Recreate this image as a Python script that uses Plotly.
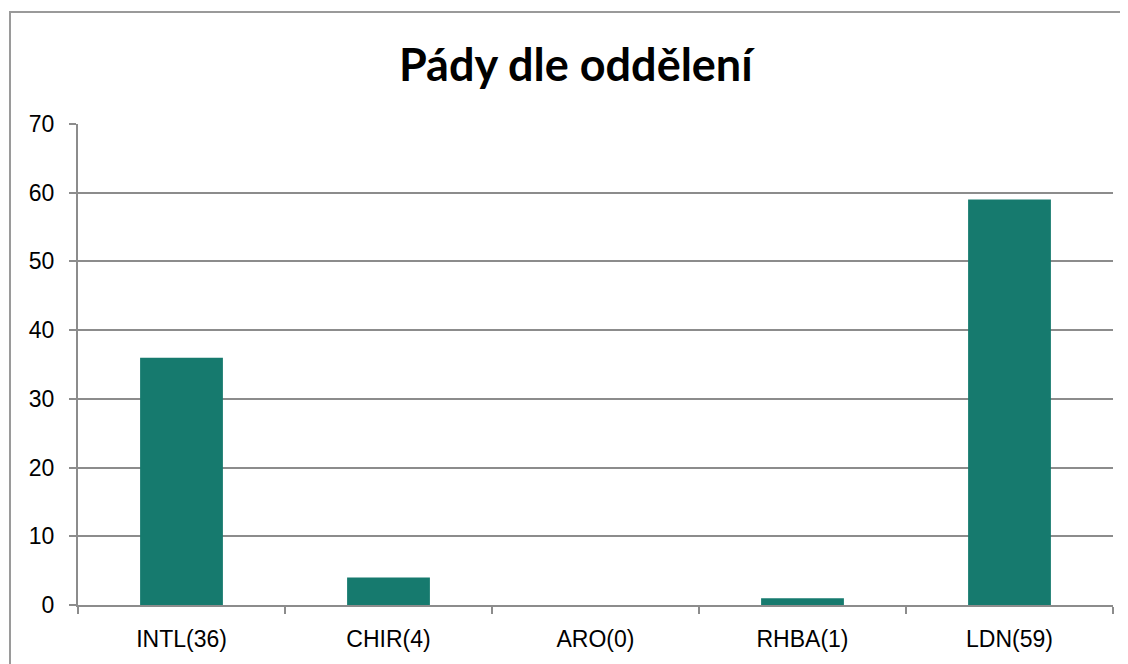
import plotly.graph_objects as go

categories = ["INTL(36)", "CHIR(4)", "ARO(0)", "RHBA(1)", "LDN(59)"]
falls = [36, 4, 0, 1, 59]

BAR_COLOR = "#167A6E"
GRID_COLOR = "#8C8C8C"

# page body has an 8px margin, so the figure is sized and offset to match
W, H = 1120, 656
L, R, T, B = 70, 15, 116, 59
plot_w = W - L - R
plot_h = H - T - B

fig = go.Figure()
fig.add_trace(go.Bar(x=categories, y=falls, marker=dict(color=BAR_COLOR, line=dict(width=0))))

fig.update_layout(
    width=W,
    height=H,
    margin=dict(l=L, r=R, t=T, b=B),
    paper_bgcolor="white",
    plot_bgcolor="white",
    bargap=0.6,
    showlegend=False,
    title=dict(
        text="Pády dle oddělení",
        x=0.507, xanchor="center", y=0.913, yanchor="middle",
        font=dict(family="Lato", size=45, color="black", weight="bold"),
    ),
    font=dict(family="Liberation Sans", size=23, color="black"),
)

fig.update_yaxes(
    range=[0, 70],
    dtick=10,
    showgrid=True, gridcolor=GRID_COLOR, gridwidth=2,
    showline=True, linecolor=GRID_COLOR, linewidth=2,
    ticks="outside", ticklen=7, tickcolor=GRID_COLOR, tickwidth=2,
    ticklabelstandoff=10,
    zeroline=False,
    fixedrange=True,
)
fig.update_xaxes(
    showline=True, linecolor=GRID_COLOR, linewidth=2,
    ticks="outside", ticklen=7, tickcolor=GRID_COLOR, tickwidth=2,
    tickson="boundaries",
    ticklabelstandoff=12,
    showgrid=False,
    fixedrange=True,
)

# outer chart frame (Excel-style chart border)
fig.add_shape(
    type="rect", xref="paper", yref="paper",
    x0=(2 - L) / plot_w, x1=(W + 20 - L) / plot_w,
    y0=-(B + 20) / plot_h, y1=(plot_h + T - 4) / plot_h,
    line=dict(color="#9A9A9A", width=2), fillcolor="rgba(0,0,0,0)",
    layer="below",
)

fig.write_html("out.html")
